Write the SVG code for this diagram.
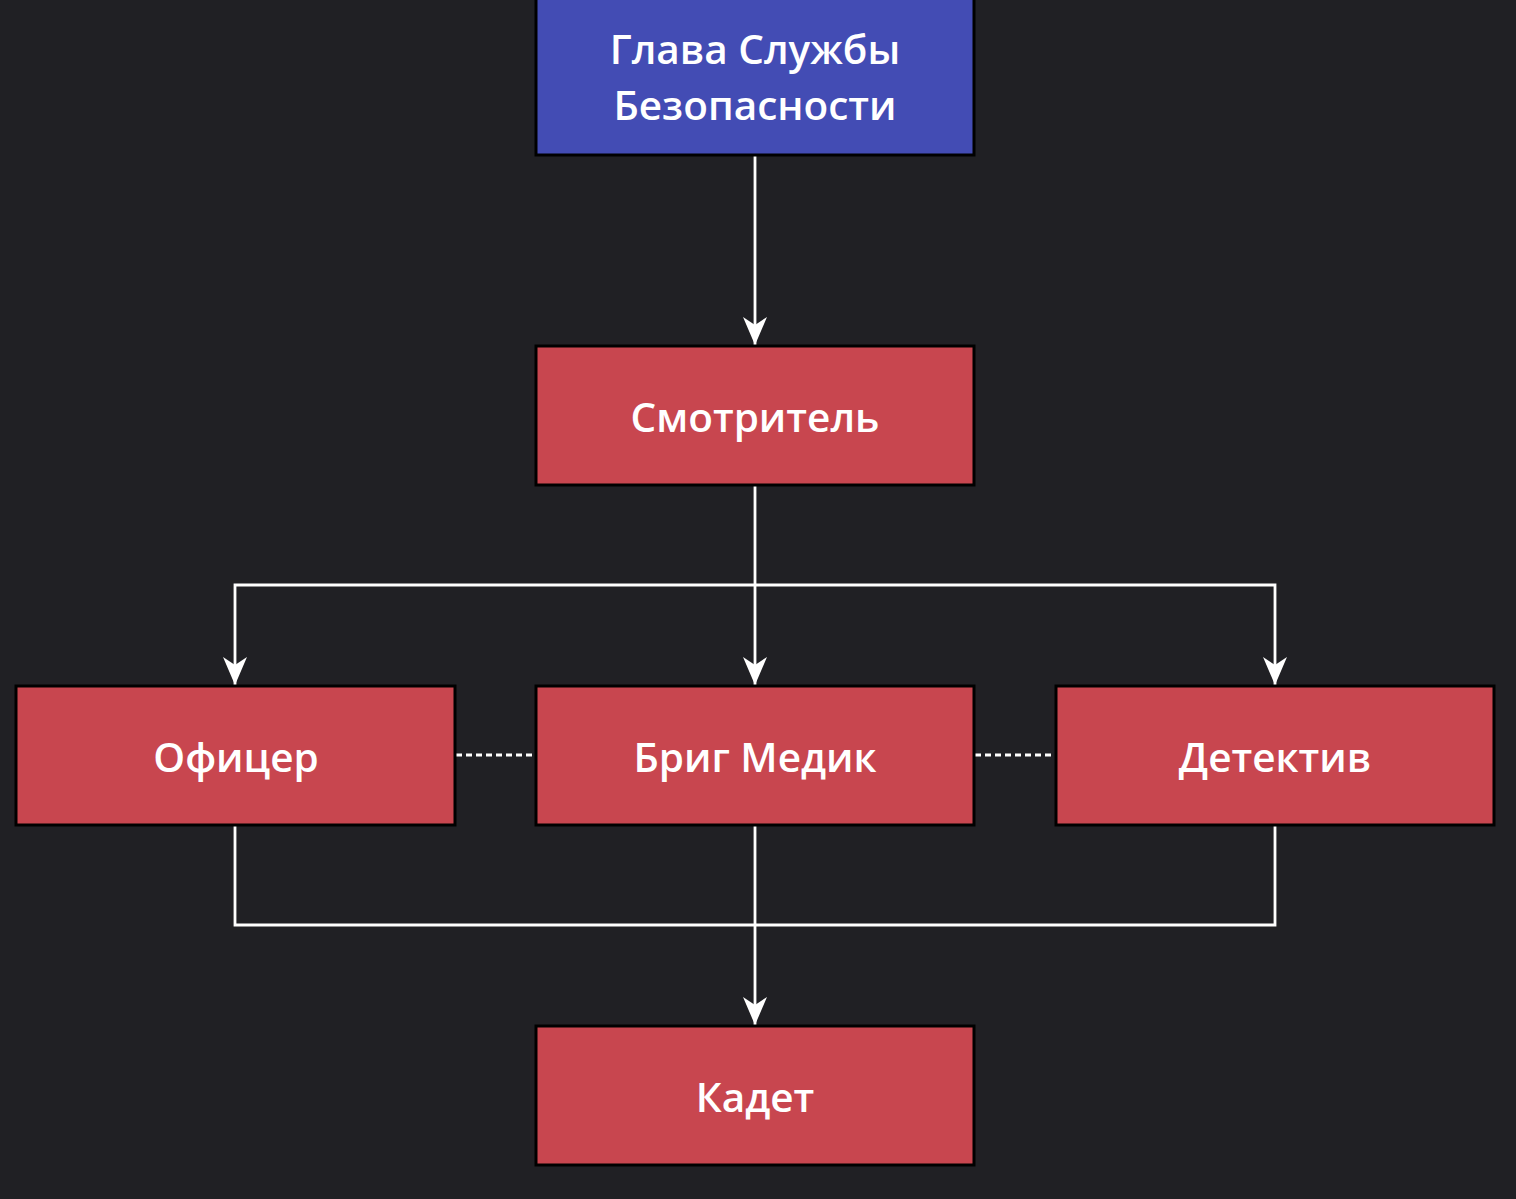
<svg xmlns="http://www.w3.org/2000/svg" width="1516" height="1199" viewBox="0 0 1516 1199">
<style>
.bg{fill:#202024}
.box{stroke:#000;stroke-width:3}
.blue{fill:#434CB4}
.red{fill:#C8464F}
.lbl{font-family:"Open Sans","Noto Sans",sans-serif;font-weight:600;font-size:40.5px;fill:#fff;text-anchor:middle;dominant-baseline:central}
.edge{fill:none;stroke:#fff;stroke-width:2.8}
.dash{fill:none;stroke:#fff;stroke-width:2.8;stroke-dasharray:6 4}
</style>
<defs>
<marker id="arr" markerWidth="32" markerHeight="26" refX="30" refY="13" orient="auto" markerUnits="userSpaceOnUse" viewBox="0 0 32 26">
<path d="M2,1 L30,13 L2,25 L10,13 Z" fill="#fff"/>
</marker>
</defs>
<rect class="bg" x="0" y="0" width="1516" height="1199"/>
<g id="connectors">
<path class="edge" d="M755,155 V345" marker-end="url(#arr)"/>
<path class="edge" d="M755,486 V685" marker-end="url(#arr)"/>
<path class="edge" d="M755,585 H235 V685" marker-end="url(#arr)"/>
<path class="edge" d="M755,585 H1275 V685" marker-end="url(#arr)"/>
<path class="edge" d="M755,826 V1025" marker-end="url(#arr)"/>
<path class="edge" d="M235,826 V925 H1275 V826"/>
<path class="dash" d="M456,755 H535"/>
<path class="dash" d="M975,755 H1055"/>
</g>
<g id="n_head">
<rect class="box blue" x="536" y="-6" width="438" height="161"/>
<text class="lbl" x="755" y="48">Глава Службы</text>
<text class="lbl" x="755" y="104">Безопасности</text>
</g>
<g id="n_warden">
<rect class="box red" x="536" y="346" width="438" height="139"/>
<text class="lbl" x="755" y="416">Смотритель</text>
</g>
<g id="n_officer">
<rect class="box red" x="16" y="686" width="439" height="139"/>
<text class="lbl" x="236" y="756">Офицер</text>
</g>
<g id="n_medic">
<rect class="box red" x="536" y="686" width="438" height="139"/>
<text class="lbl" x="755" y="756">Бриг Медик</text>
</g>
<g id="n_detective">
<rect class="box red" x="1056" y="686" width="438" height="139"/>
<text class="lbl" x="1275" y="756">Детектив</text>
</g>
<g id="n_cadet">
<rect class="box red" x="536" y="1026" width="438" height="139"/>
<text class="lbl" x="755" y="1096">Кадет</text>
</g>
</svg>
